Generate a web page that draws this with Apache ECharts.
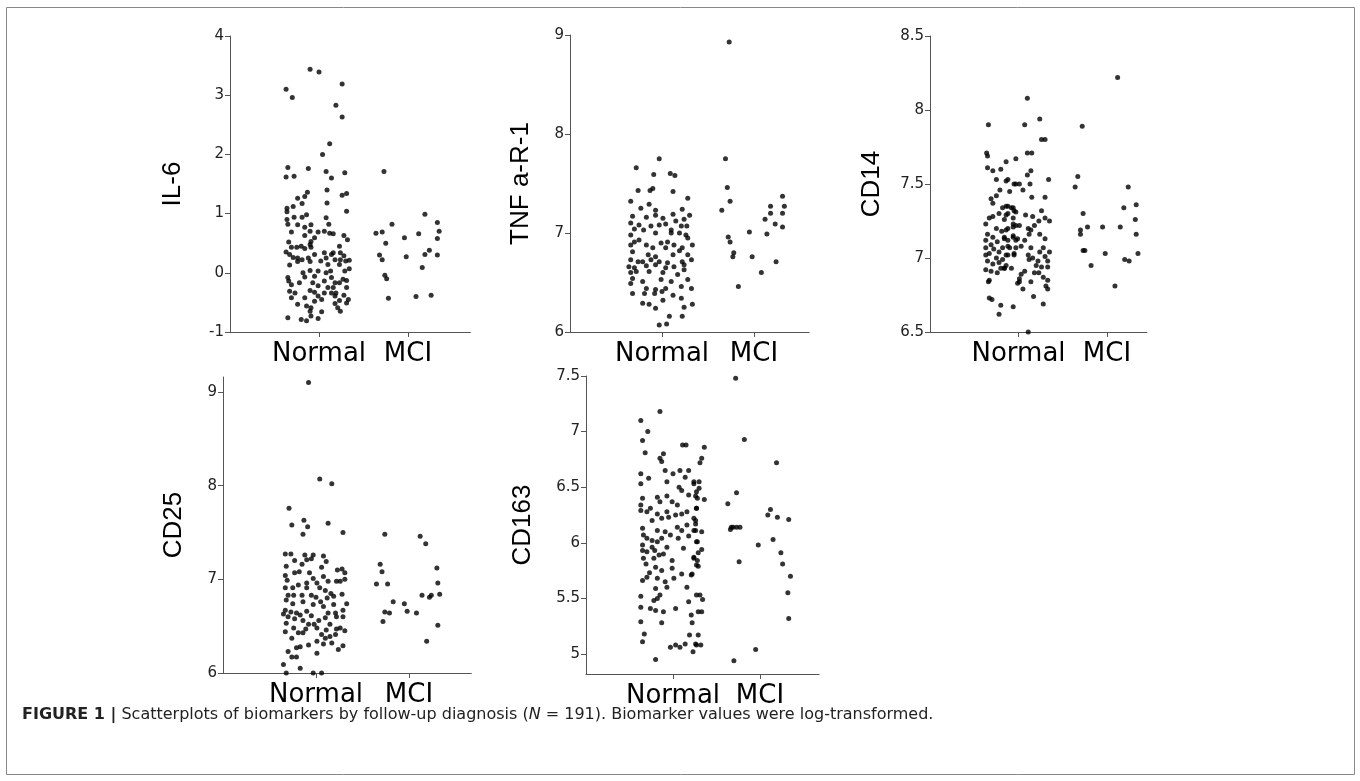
<!DOCTYPE html>
<html><head><meta charset="utf-8">
<script src="https://cdn.jsdelivr.net/npm/echarts@6/dist/echarts.min.js"></script>
<style>html,body{margin:0;padding:0;background:#fff}#c{width:1360px;height:781px}</style>
</head><body><div id="c"></div><script>
// groups on the x axis (1 = Normal, 2 = MCI); points are [jitter offset, value]
const groups = ['Normal', 'MCI'];

const il6Normal = [[-0.37,3.10],[-0.30,2.96],[-0.10,3.44],[0.00,3.39],[0.19,2.83],[0.12,2.18],[0.04,2.00],[-0.35,1.78],[-0.37,1.62],[-0.28,1.63],[-0.12,1.76],[0.08,1.71],[0.14,1.60],[0.09,1.40],[-0.13,1.36],[-0.16,1.29],[-0.24,1.26],[-0.19,1.17],[0.09,1.18],[-0.29,1.12],[-0.36,1.09],[-0.36,1.03],[-0.14,0.98],[0.08,0.93],[-0.36,0.90],[-0.28,0.94],[-0.19,0.94],[-0.35,0.82],[-0.24,0.81],[-0.09,0.81],[-0.16,0.77],[0.11,0.82],[-0.31,0.69],[-0.10,0.70],[-0.01,0.69],[0.06,0.70],[0.12,0.67],[0.16,0.66],[-0.16,0.63],[-0.05,0.59],[-0.34,0.52],[-0.09,0.53],[-0.10,0.48],[-0.25,0.43],[-0.20,0.45],[-0.16,0.41],[-0.09,0.43],[-0.31,0.43],[-0.37,0.35],[-0.33,0.31],[-0.29,0.26],[-0.24,0.25],[-0.19,0.22],[-0.12,0.25],[-0.05,0.31],[0.06,0.34],[0.08,0.25],[0.14,0.31],[0.02,0.20],[-0.10,0.19],[-0.24,0.19],[-0.33,0.13],[0.10,0.14],[0.18,0.22],[-0.01,0.03],[-0.10,0.04],[-0.18,0.00],[0.08,0.00],[-0.05,-0.06],[-0.16,-0.07],[-0.35,-0.08],[-0.34,-0.14],[0.14,-0.08],[0.06,-0.14],[-0.07,-0.17],[-0.22,-0.17],[0.18,-0.17],[-0.31,-0.20],[-0.01,-0.22],[0.10,-0.25],[-0.10,-0.30],[-0.33,-0.31],[-0.27,-0.34],[-0.05,-0.33],[0.06,-0.34],[0.14,-0.34],[0.18,-0.39],[-0.31,-0.42],[-0.16,-0.42],[-0.01,-0.39],[0.03,-0.45],[-0.05,-0.48],[0.18,-0.52],[-0.24,-0.53],[-0.14,-0.56],[-0.09,-0.59],[-0.10,-0.65],[0.03,-0.66],[-0.09,-0.73],[-0.35,-0.76],[-0.20,-0.79],[-0.14,-0.81],[-0.01,-0.77],[0.21,-0.59],[0.26,3.19],[0.26,2.63],[0.29,1.69],[0.26,1.31],[0.31,1.34],[0.31,1.04],[0.28,0.63],[0.32,0.56],[0.23,0.45],[0.16,0.34],[0.24,0.34],[0.28,0.29],[0.24,0.22],[0.30,0.20],[0.34,0.21],[0.23,0.14],[0.29,0.03],[0.34,0.07],[0.13,0.03],[0.23,-0.17],[0.27,-0.11],[0.31,-0.13],[0.16,-0.25],[0.31,-0.25],[0.19,-0.34],[0.28,-0.38],[0.23,-0.47],[0.33,-0.45],[0.31,-0.51],[0.24,-0.65]];
const il6Mci = [[-0.27,1.71],[-0.18,0.82],[-0.36,0.67],[-0.29,0.69],[-0.25,0.50],[-0.32,0.30],[-0.29,0.22],[-0.26,-0.04],[-0.24,-0.10],[-0.22,-0.43],[-0.04,0.59],[-0.02,0.27],[0.12,0.66],[0.19,0.99],[0.33,0.85],[0.35,0.70],[0.33,0.58],[0.24,0.38],[0.19,0.31],[0.33,0.30],[0.16,0.09],[0.09,-0.40],[0.26,-0.38]];

const tnfNormal = [[-0.03,7.75],[-0.28,7.66],[-0.09,7.59],[0.09,7.60],[0.14,7.58],[-0.26,7.43],[-0.10,7.45],[-0.13,7.43],[0.12,7.42],[0.28,7.35],[-0.34,7.32],[-0.23,7.25],[-0.14,7.29],[-0.07,7.23],[0.22,7.24],[-0.32,7.17],[-0.17,7.16],[-0.07,7.18],[0.01,7.15],[0.12,7.19],[0.15,7.12],[0.24,7.14],[-0.34,7.10],[-0.25,7.08],[-0.12,7.07],[-0.03,7.08],[0.04,7.09],[0.10,7.03],[0.21,7.07],[-0.30,7.04],[-0.20,7.03],[-0.34,6.98],[-0.07,7.00],[0.10,7.00],[0.19,7.00],[0.26,6.98],[-0.30,6.91],[-0.25,6.93],[-0.17,6.88],[-0.01,6.90],[0.06,6.91],[0.13,6.88],[-0.34,6.88],[-0.10,6.85],[0.04,6.85],[0.22,6.85],[-0.32,6.81],[-0.15,6.78],[-0.07,6.76],[0.12,6.78],[0.19,6.82],[0.28,6.78],[-0.34,6.73],[-0.26,6.71],[-0.21,6.71],[-0.12,6.73],[-0.03,6.71],[0.06,6.70],[0.22,6.71],[-0.36,6.66],[-0.30,6.65],[-0.17,6.67],[-0.07,6.68],[0.04,6.65],[0.13,6.66],[-0.34,6.60],[-0.28,6.61],[-0.14,6.61],[0.01,6.60],[0.17,6.58],[0.24,6.63],[-0.32,6.54],[-0.21,6.51],[-0.01,6.53],[0.10,6.51],[0.28,6.53],[-0.34,6.49],[-0.17,6.44],[-0.07,6.43],[0.04,6.44],[0.21,6.46],[-0.32,6.39],[-0.19,6.39],[-0.08,6.39],[0.00,6.41],[0.12,6.37],[0.21,6.34],[-0.21,6.29],[-0.14,6.28],[0.01,6.32],[-0.07,6.24],[0.24,6.25],[0.08,6.16],[0.22,6.16],[-0.03,6.07],[0.05,6.08],[0.30,7.18],[0.27,7.07],[0.28,6.95],[0.33,6.88],[0.32,6.73],[0.24,6.68],[0.32,6.44],[0.33,6.28]];
const tnfMci = [[-0.27,8.93],[-0.31,7.75],[-0.29,7.46],[-0.26,7.32],[-0.35,7.23],[-0.28,6.96],[-0.26,6.91],[-0.22,6.80],[-0.23,6.76],[-0.17,6.46],[-0.05,7.01],[-0.02,6.76],[0.08,6.60],[0.12,7.14],[0.14,6.99],[0.18,7.27],[0.18,7.20],[0.23,7.09],[0.24,6.71],[0.31,7.37],[0.33,7.27],[0.31,7.20],[0.31,7.06]];

const cd14Normal = [[-0.34,7.90],[-0.36,7.71],[-0.35,7.69],[-0.35,7.61],[-0.29,7.59],[-0.20,7.60],[-0.14,7.65],[-0.03,7.67],[-0.25,7.53],[-0.14,7.52],[-0.03,7.50],[-0.21,7.46],[-0.10,7.45],[-0.31,7.40],[-0.25,7.42],[-0.29,7.37],[-0.18,7.34],[-0.14,7.35],[-0.08,7.34],[-0.22,7.30],[-0.12,7.30],[-0.05,7.32],[-0.33,7.27],[-0.29,7.28],[-0.37,7.23],[-0.16,7.26],[-0.06,7.23],[-0.03,7.22],[-0.25,7.20],[-0.19,7.18],[-0.12,7.20],[-0.35,7.16],[-0.29,7.14],[-0.16,7.14],[-0.06,7.15],[-0.37,7.12],[-0.31,7.09],[-0.24,7.11],[-0.12,7.12],[-0.03,7.12],[-0.37,7.07],[-0.28,7.06],[-0.18,7.07],[-0.10,7.07],[-0.22,7.04],[-0.33,7.03],[-0.14,7.02],[-0.05,7.03],[-0.37,7.02],[-0.25,7.00],[-0.18,6.99],[-0.35,6.98],[-0.29,6.96],[-0.22,6.97],[-0.14,6.95],[-0.37,6.92],[-0.31,6.91],[-0.24,6.90],[-0.20,6.93],[-0.16,6.93],[-0.33,6.85],[-0.34,6.84],[0.01,6.84],[-0.33,6.73],[-0.30,6.72],[-0.20,6.68],[-0.06,6.67],[-0.22,6.62],[0.10,8.08],[0.07,7.90],[0.24,7.94],[0.26,7.80],[0.30,7.80],[0.10,7.71],[0.15,7.71],[0.10,7.56],[0.14,7.59],[-0.12,7.53],[-0.05,7.50],[0.01,7.50],[0.13,7.50],[0.34,7.53],[0.05,7.46],[0.15,7.41],[0.30,7.41],[-0.12,7.35],[-0.06,7.34],[-0.03,7.31],[0.26,7.32],[-0.14,7.29],[-0.06,7.27],[0.08,7.29],[0.16,7.28],[0.30,7.27],[0.35,7.25],[0.23,7.25],[0.18,7.22],[0.01,7.22],[-0.14,7.19],[-0.06,7.21],[0.11,7.20],[0.14,7.19],[0.24,7.16],[0.30,7.13],[-0.16,7.13],[-0.06,7.14],[-0.01,7.13],[0.07,7.12],[0.12,7.16],[-0.12,7.08],[-0.03,7.07],[0.03,7.08],[0.14,7.07],[0.28,7.07],[0.24,7.04],[0.35,7.04],[-0.12,7.02],[-0.05,7.02],[0.11,7.02],[0.30,7.01],[0.16,7.00],[0.12,6.99],[0.22,6.98],[0.33,6.98],[-0.16,6.93],[-0.08,6.93],[0.20,6.95],[0.26,6.94],[0.33,6.94],[0.07,6.91],[0.18,6.90],[0.23,6.90],[0.03,6.89],[0.01,6.86],[0.28,6.87],[0.33,6.85],[0.14,6.84],[-0.01,6.83],[0.31,6.81],[0.33,6.79],[0.05,6.79],[0.17,6.74],[0.28,6.69],[0.11,6.50]];
const cd14Mci = [[0.12,8.22],[-0.28,7.89],[-0.33,7.55],[-0.36,7.48],[-0.27,7.30],[-0.22,7.21],[-0.30,7.19],[-0.30,7.16],[-0.27,7.05],[-0.25,7.05],[-0.18,6.95],[-0.05,7.21],[-0.02,7.03],[0.09,6.81],[0.15,7.21],[0.24,7.48],[0.19,7.34],[0.33,7.36],[0.32,7.26],[0.33,7.16],[0.20,6.99],[0.25,6.98],[0.35,7.03]];

const cd25Normal = [[-0.08,9.10],[0.04,8.07],[0.17,8.02],[-0.29,7.76],[-0.26,7.58],[-0.13,7.63],[-0.09,7.56],[-0.14,7.48],[0.13,7.60],[-0.33,7.27],[-0.27,7.27],[-0.12,7.26],[-0.03,7.26],[0.08,7.25],[0.11,7.19],[-0.23,7.20],[-0.15,7.16],[-0.10,7.21],[-0.05,7.22],[-0.32,7.14],[0.06,7.13],[0.23,7.10],[-0.33,7.04],[-0.23,7.07],[-0.18,7.08],[-0.07,7.07],[0.08,7.03],[-0.31,6.99],[-0.03,7.01],[0.01,6.96],[0.13,6.98],[0.22,6.98],[-0.10,6.96],[-0.19,6.94],[-0.25,6.91],[-0.33,6.91],[-0.10,6.91],[0.04,6.91],[0.10,6.88],[0.16,6.85],[-0.30,6.83],[-0.24,6.83],[-0.15,6.83],[-0.05,6.83],[0.00,6.81],[0.12,6.80],[0.19,6.82],[-0.32,6.78],[-0.14,6.76],[0.05,6.76],[0.19,6.73],[-0.25,6.74],[-0.03,6.73],[0.08,6.71],[-0.33,6.67],[-0.27,6.65],[-0.21,6.64],[-0.10,6.66],[0.13,6.64],[-0.35,6.63],[-0.30,6.60],[-0.17,6.62],[-0.05,6.61],[0.10,6.59],[0.22,6.60],[-0.23,6.58],[-0.14,6.56],[0.03,6.56],[-0.32,6.53],[-0.08,6.52],[-0.02,6.52],[0.15,6.52],[-0.24,6.48],[-0.11,6.47],[0.01,6.48],[0.11,6.46],[0.22,6.47],[-0.33,6.44],[-0.19,6.43],[-0.14,6.43],[0.06,6.41],[0.15,6.39],[-0.26,6.37],[0.01,6.34],[0.10,6.37],[-0.08,6.30],[0.08,6.31],[0.17,6.32],[-0.17,6.28],[-0.21,6.27],[0.24,6.25],[-0.30,6.23],[0.01,6.21],[-0.26,6.17],[-0.21,6.17],[-0.35,6.09],[-0.17,6.05],[-0.32,6.00],[-0.13,5.99],[-0.03,6.00],[0.06,6.00],[0.29,7.50],[0.28,7.11],[0.31,7.07],[0.26,6.98],[0.31,7.00],[0.28,6.84],[0.33,6.74],[0.29,6.67],[0.21,6.64],[0.29,6.60],[0.26,6.48],[0.31,6.45],[0.21,6.41],[0.29,6.29],[0.33,5.99]];
const cd25Mci = [[-0.27,9.17],[-0.26,7.48],[-0.31,7.16],[-0.29,7.08],[-0.35,6.95],[-0.23,6.95],[-0.17,6.76],[-0.26,6.65],[-0.21,6.64],[-0.28,6.55],[-0.05,6.74],[-0.02,6.66],[0.08,6.64],[0.12,7.46],[0.18,7.38],[0.14,6.83],[0.22,6.81],[0.24,6.83],[0.30,7.12],[0.31,6.96],[0.33,6.84],[0.31,6.51],[0.19,6.34]];

const cd163Normal = [[-0.15,7.18],[-0.37,7.10],[-0.29,7.00],[-0.35,6.92],[-0.32,6.81],[0.11,6.88],[0.15,6.88],[-0.11,6.80],[-0.15,6.76],[-0.13,6.73],[-0.09,6.65],[0.08,6.65],[0.18,6.65],[-0.37,6.62],[0.00,6.62],[-0.28,6.58],[-0.07,6.55],[0.14,6.59],[-0.37,6.53],[0.07,6.50],[0.24,6.53],[0.10,6.47],[0.27,6.46],[-0.18,6.41],[-0.07,6.42],[0.18,6.43],[-0.35,6.40],[-0.15,6.37],[-0.01,6.37],[0.05,6.34],[-0.37,6.34],[-0.26,6.31],[0.27,6.31],[-0.07,6.28],[0.16,6.28],[-0.30,6.28],[-0.18,6.26],[-0.37,6.29],[0.03,6.25],[0.10,6.26],[-0.13,6.22],[-0.05,6.23],[-0.24,6.20],[0.26,6.20],[0.05,6.14],[0.16,6.16],[-0.35,6.13],[-0.18,6.11],[-0.09,6.10],[0.10,6.11],[0.26,6.11],[-0.03,6.07],[-0.34,6.07],[-0.30,6.04],[-0.13,6.04],[0.06,6.04],[0.18,6.06],[0.27,6.01],[-0.24,6.02],[-0.18,6.01],[-0.35,5.98],[-0.24,5.96],[-0.21,5.93],[-0.07,5.96],[0.12,5.95],[-0.35,5.93],[-0.30,5.92],[-0.16,5.89],[-0.11,5.90],[0.24,5.87],[-0.34,5.86],[-0.22,5.86],[-0.01,5.84],[-0.31,5.81],[0.27,5.80],[-0.20,5.78],[-0.13,5.75],[-0.01,5.77],[0.10,5.72],[-0.27,5.73],[0.21,5.71],[-0.30,5.69],[-0.18,5.68],[-0.35,5.66],[0.01,5.68],[-0.09,5.65],[-0.20,5.59],[0.16,5.60],[-0.07,5.60],[-0.15,5.53],[-0.37,5.52],[-0.18,5.50],[0.27,5.53],[-0.22,5.48],[0.18,5.47],[-0.37,5.42],[-0.26,5.41],[-0.20,5.39],[-0.11,5.38],[0.03,5.41],[0.21,5.35],[0.29,5.38],[-0.37,5.29],[-0.13,5.28],[0.22,5.28],[-0.33,5.18],[0.19,5.17],[-0.35,5.11],[0.03,5.08],[-0.03,5.06],[0.08,5.06],[0.14,5.09],[0.23,5.02],[0.27,5.08],[-0.20,4.95],[0.36,6.86],[0.33,6.76],[0.31,6.72],[0.24,6.55],[0.30,6.55],[0.30,6.49],[0.26,6.42],[0.28,6.40],[0.36,6.39],[0.27,6.31],[0.24,6.22],[0.26,6.17],[0.24,6.11],[0.33,6.10],[0.28,6.01],[0.33,5.94],[0.29,5.91],[0.24,5.86],[0.28,5.84],[0.29,5.79],[0.22,5.72],[0.31,5.53],[0.34,5.49],[0.33,5.38],[0.29,5.17],[0.26,5.09],[0.32,5.08]];
const cd163Mci = [[-0.28,7.48],[-0.18,6.93],[-0.27,6.45],[-0.37,6.35],[-0.33,6.14],[-0.31,6.14],[-0.27,6.14],[-0.23,6.14],[-0.34,6.12],[-0.24,5.83],[-0.30,4.94],[-0.02,5.98],[-0.05,5.04],[0.19,6.72],[0.12,6.30],[0.09,6.25],[0.20,6.23],[0.33,6.21],[0.15,6.03],[0.24,5.91],[0.26,5.81],[0.35,5.70],[0.32,5.55],[0.33,5.32]];

// y-axis tick labels per panel
const il6Ticks = [-1, 0, 1, 2, 3, 4];
const tnfTicks = [6, 7, 8, 9];
const cd14Ticks = [6.5, 7, 7.5, 8, 8.5];
const cd25Ticks = [6, 7, 8, 9];
const cd163Ticks = [5, 5.5, 6, 6.5, 7, 7.5];

const panels = [
  {name: 'IL-6', normal: il6Normal, mci: il6Mci, ticks: il6Ticks, min: -1, max: 4, left: 230, top: 36, height: 296, unit: 89, xmax: 2.7, gap: 44},
  {name: 'TNF a-R-1', normal: tnfNormal, mci: tnfMci, ticks: tnfTicks, min: 6, max: 9, left: 570, top: 35, height: 297, unit: 92, xmax: 2.6, gap: 36},
  {name: 'CD14', normal: cd14Normal, mci: cd14Mci, ticks: cd14Ticks, min: 6.5, max: 8.5, left: 930, top: 36, height: 296, unit: 88.5, xmax: 2.45, gap: 45},
  {name: 'CD25', normal: cd25Normal, mci: cd25Mci, ticks: cd25Ticks, min: 6, max: 9.16, left: 223, top: 377, height: 296, unit: 93, xmax: 2.67, gap: 36},
  {name: 'CD163', normal: cd163Normal, mci: cd163Mci, ticks: cd163Ticks, min: 4.82, max: 7.5, left: 586, top: 376, height: 298, unit: 87, xmax: 2.68, gap: 50}
];

const axisColor = '#555';
const grid = [], xAxis = [], yAxis = [], series = [];
panels.forEach((p, i) => {
  grid.push({left: p.left, top: p.top, width: p.unit * p.xmax, height: p.height});
  xAxis.push({
    type: 'value', gridIndex: i, min: 0, max: p.xmax,
    axisLine: {show: true, onZero: false, lineStyle: {color: axisColor, width: 1}},
    axisTick: {show: true, customValues: [1, 2], length: 5, lineStyle: {color: axisColor}},
    axisLabel: {show: true, customValues: [1, 2], formatter: v => groups[Math.round(v) - 1] || '',
      fontSize: 26, color: '#000', margin: 9, fontFamily: 'DejaVu Sans'},
    splitLine: {show: false}
  });
  yAxis.push({
    type: 'value', gridIndex: i, min: p.min, max: p.max,
    axisLine: {show: true, onZero: false, lineStyle: {color: axisColor, width: 1}},
    axisTick: {show: true, customValues: p.ticks, length: 5, lineStyle: {color: axisColor}},
    axisLabel: {show: true, customValues: p.ticks, fontSize: 15, color: '#222', margin: 6, fontFamily: 'DejaVu Sans'},
    splitLine: {show: false},
    name: p.name, nameLocation: 'middle', nameGap: p.gap,
    nameTextStyle: {fontSize: 26, color: '#000', fontFamily: 'Liberation Sans'}
  });
  const pts = p.normal.map(d => [1 + d[0], d[1]]).concat(p.mci.map(d => [2 + d[0], d[1]]));
  series.push({type: 'scatter', xAxisIndex: i, yAxisIndex: i, data: pts, symbolSize: 5,
    itemStyle: {color: '#000'}, silent: true});
});

const chart = echarts.init(document.getElementById('c'));
chart.setOption({
  animation: false,
  backgroundColor: '#fff',
  grid, xAxis, yAxis, series,
  title: {
    text: '{b|FIGURE 1 |} Scatterplots of biomarkers by follow-up diagnosis ({i|N} = 191). Biomarker values were log-transformed.',
    left: 22, top: 707, padding: 0,
    textStyle: {fontSize: 16, fontWeight: 'normal', color: '#222', fontFamily: 'DejaVu Sans',
      rich: {b: {fontSize: 16, fontWeight: 'bold', color: '#222', fontFamily: 'DejaVu Sans'},
             i: {fontSize: 16, fontStyle: 'italic', color: '#222', fontFamily: 'DejaVu Sans'}}}
  },
  graphic: [{type: 'rect', shape: {x: 6.5, y: 7.5, width: 1348, height: 767}, silent: true,
    style: {fill: 'none', stroke: '#888', lineWidth: 1}}]
});
</script></body></html>
